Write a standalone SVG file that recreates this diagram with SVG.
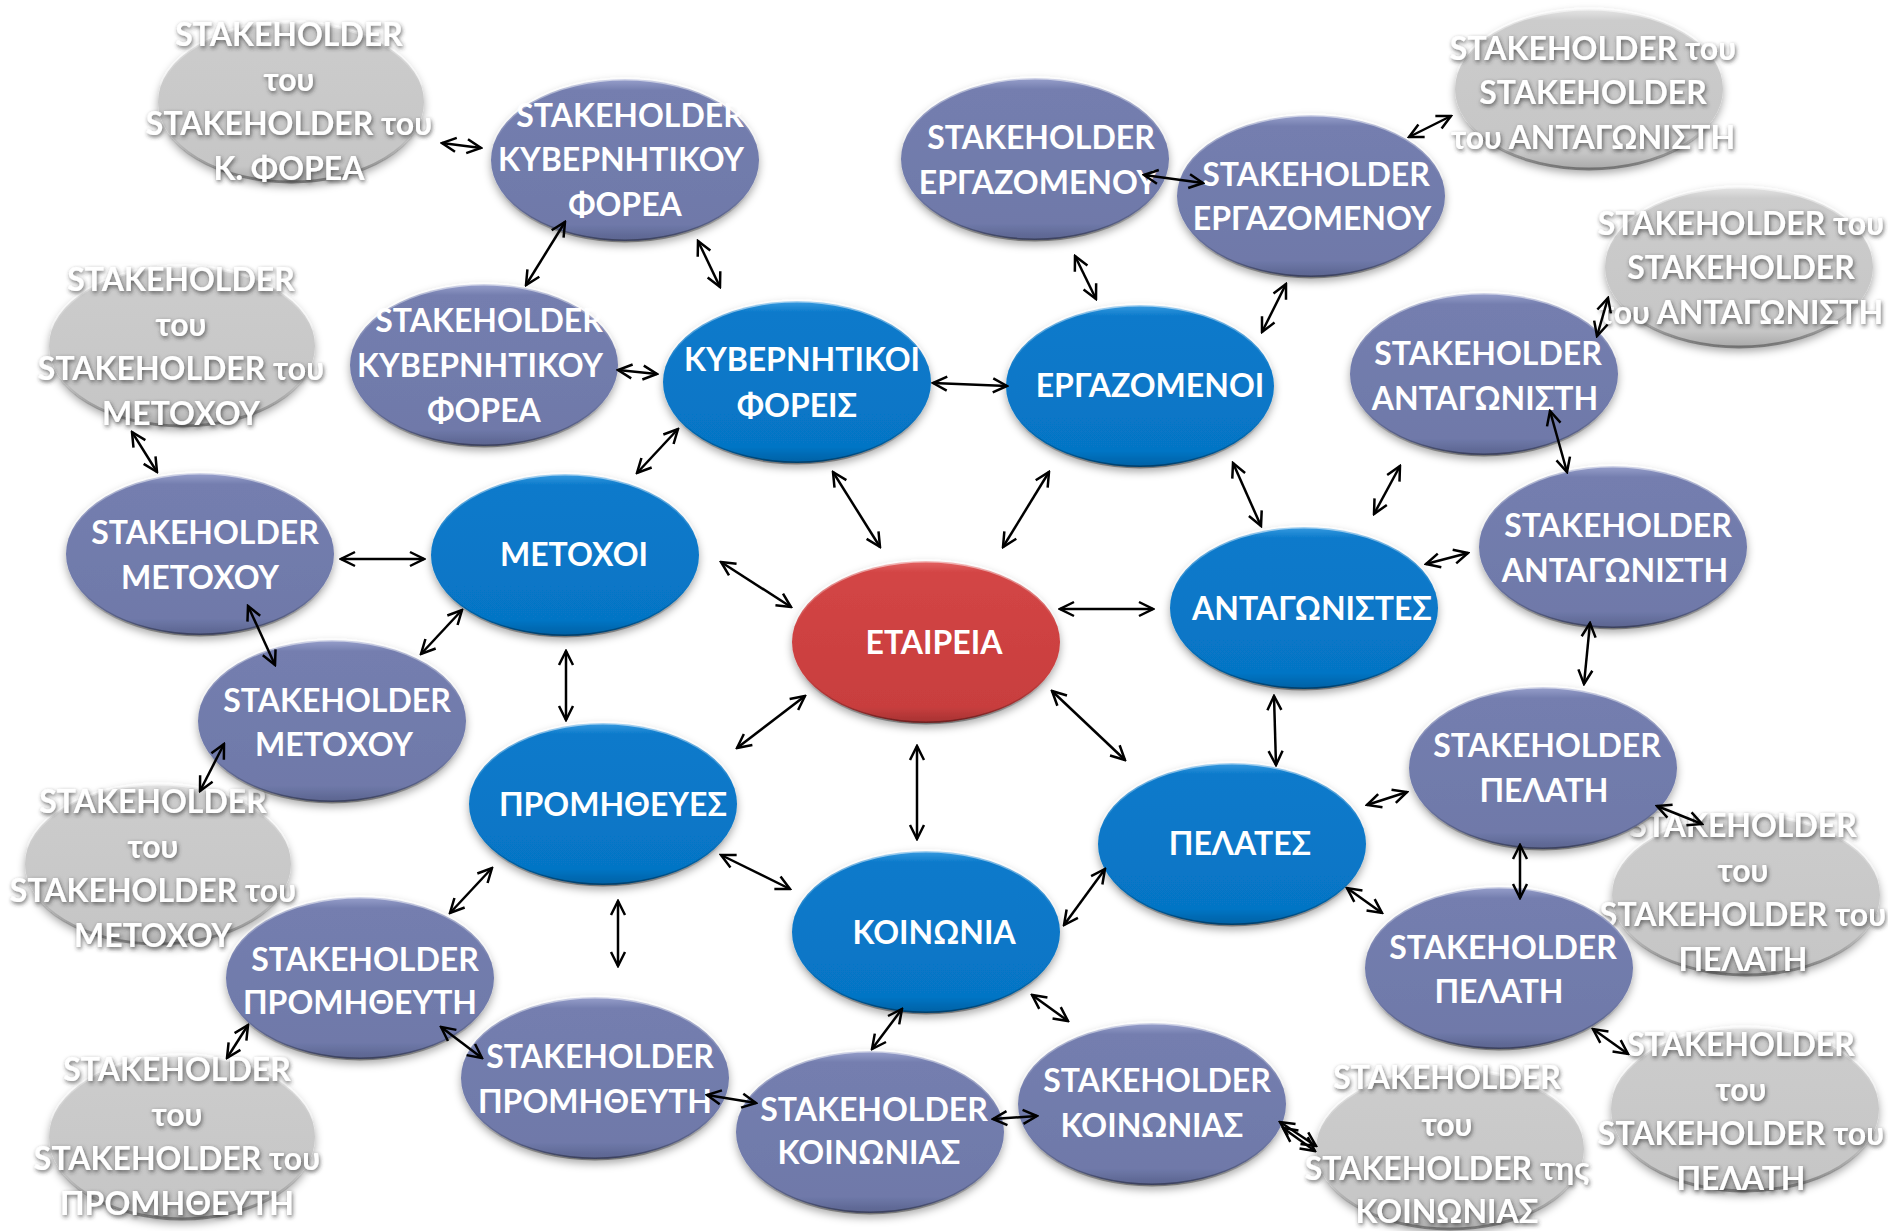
<svg xmlns="http://www.w3.org/2000/svg" width="1888" height="1231" viewBox="0 0 1888 1231">
<style>
text{font-family:Lato,"Open Sans","Noto Sans",sans-serif;font-weight:700;font-size:32px;fill:#fff;text-anchor:middle}
.blue ellipse{fill:url(#gBlue)}
.purple ellipse{fill:url(#gPurple)}
.red ellipse{fill:url(#gRed)}
.grey ellipse{fill:url(#gGrey)}
.node ellipse{stroke:url(#bev);stroke-width:3;filter:url(#sh)}
.grey text{filter:url(#ts)}
#connectors line{stroke:#000;stroke-width:2.5;fill:none;marker-start:url(#ah);marker-end:url(#ah)}
</style>
<defs>
<linearGradient id="gBlue" x1="0" y1="0" x2="0" y2="1"><stop offset="0" stop-color="#3a9be0"/><stop offset="0.07" stop-color="#0a7acb"/><stop offset="0.9" stop-color="#0675c5"/><stop offset="1" stop-color="#0560a3"/></linearGradient>
<linearGradient id="gPurple" x1="0" y1="0" x2="0" y2="1"><stop offset="0" stop-color="#98a0cc"/><stop offset="0.07" stop-color="#747eaf"/><stop offset="0.9" stop-color="#6f79a9"/><stop offset="1" stop-color="#5a638e"/></linearGradient>
<linearGradient id="gRed" x1="0" y1="0" x2="0" y2="1"><stop offset="0" stop-color="#e46464"/><stop offset="0.07" stop-color="#d34545"/><stop offset="0.9" stop-color="#c83e3e"/><stop offset="1" stop-color="#a53131"/></linearGradient>
<linearGradient id="gGrey" x1="0" y1="0" x2="0" y2="1"><stop offset="0" stop-color="#e6e6e6"/><stop offset="0.07" stop-color="#cccccc"/><stop offset="0.9" stop-color="#c6c6c6"/><stop offset="1" stop-color="#a9a9a9"/></linearGradient>
<linearGradient id="bev" x1="0" y1="0" x2="0" y2="1"><stop offset="0" stop-color="#fff" stop-opacity="0.55"/><stop offset="0.4" stop-color="#fff" stop-opacity="0"/><stop offset="0.7" stop-color="#000" stop-opacity="0"/><stop offset="1" stop-color="#000" stop-opacity="0.35"/></linearGradient>
<filter id="sh" x="-20%" y="-20%" width="140%" height="150%"><feDropShadow dx="0" dy="4" stdDeviation="4" flood-color="#000" flood-opacity="0.35"/></filter>
<filter id="ts" x="-10%" y="-30%" width="120%" height="170%"><feDropShadow dx="1" dy="2" stdDeviation="2" flood-color="#333" flood-opacity="0.75"/></filter>
<marker id="ah" viewBox="0 0 18 18" refX="16" refY="9" markerWidth="18" markerHeight="18" markerUnits="userSpaceOnUse" orient="auto-start-reverse"><path d="M2,2 L16,9 L2,16" fill="none" stroke="#000" stroke-width="2.5"/></marker>
</defs>
<rect width="1888" height="1231" fill="#fff"/>

<!-- grey nodes -->
<g id="g_kfor" class="node grey"><ellipse cx="291" cy="102" rx="133" ry="80"/>
<text x="289" y="46">STAKEHOLDER</text><text x="289" y="91">του</text><text x="289" y="135">STAKEHOLDER του</text><text x="289" y="180">Κ. ΦΟΡΕΑ</text></g>
<g id="g_met1" class="node grey"><ellipse cx="182" cy="346" rx="133" ry="80"/>
<text x="181" y="291">STAKEHOLDER</text><text x="181" y="336">του</text><text x="181" y="380">STAKEHOLDER του</text><text x="181" y="425">ΜΕΤΟΧΟΥ</text></g>
<g id="g_met2" class="node grey"><ellipse cx="158" cy="864" rx="133" ry="80"/>
<text x="153" y="813">STAKEHOLDER</text><text x="153" y="858">του</text><text x="153" y="902">STAKEHOLDER του</text><text x="153" y="947">ΜΕΤΟΧΟΥ</text></g>
<g id="g_prom" class="node grey"><ellipse cx="182" cy="1137" rx="133" ry="82"/>
<text x="177" y="1081">STAKEHOLDER</text><text x="177" y="1126">του</text><text x="177" y="1170">STAKEHOLDER του</text><text x="177" y="1215">ΠΡΟΜΗΘΕΥΤΗ</text></g>
<g id="g_ant1" class="node grey"><ellipse cx="1589" cy="89" rx="134" ry="80"/>
<text x="1593" y="60">STAKEHOLDER του</text><text x="1593" y="104">STAKEHOLDER</text><text x="1593" y="149">του ΑΝΤΑΓΩΝΙΣΤΗ</text></g>
<g id="g_ant2" class="node grey"><ellipse cx="1739" cy="267" rx="134" ry="80"/>
<text x="1741" y="235">STAKEHOLDER του</text><text x="1741" y="279">STAKEHOLDER</text><text x="1741" y="324">του ΑΝΤΑΓΩΝΙΣΤΗ</text></g>
<g id="g_pel1" class="node grey"><ellipse cx="1746" cy="895" rx="134" ry="80"/>
<text x="1743" y="837">STAKEHOLDER</text><text x="1743" y="882">του</text><text x="1743" y="926">STAKEHOLDER του</text><text x="1743" y="971">ΠΕΛΑΤΗ</text></g>
<g id="g_pel2" class="node grey"><ellipse cx="1745" cy="1109" rx="134" ry="82"/>
<text x="1741" y="1056">STAKEHOLDER</text><text x="1741" y="1101">του</text><text x="1741" y="1145">STAKEHOLDER του</text><text x="1741" y="1190">ΠΕΛΑΤΗ</text></g>
<g id="g_koin" class="node grey"><ellipse cx="1450" cy="1149" rx="134" ry="80"/>
<text x="1447" y="1089">STAKEHOLDER</text><text x="1447" y="1136">του</text><text x="1447" y="1180">STAKEHOLDER της</text><text x="1447" y="1223">ΚΟΙΝΩΝΙΑΣ</text></g>

<!-- purple nodes -->
<g id="p_kyv1" class="node purple"><ellipse cx="625" cy="160" rx="134" ry="81"/>
<text x="630" y="127">STAKEHOLDER</text><text x="621" y="171">ΚΥΒΕΡΝΗΤΙΚΟΥ</text><text x="625" y="216">ΦΟΡΕΑ</text></g>
<g id="p_kyv2" class="node purple"><ellipse cx="484" cy="365" rx="134" ry="81"/>
<text x="489" y="332">STAKEHOLDER</text><text x="480" y="377">ΚΥΒΕΡΝΗΤΙΚΟΥ</text><text x="484" y="422">ΦΟΡΕΑ</text></g>
<g id="p_erg1" class="node purple"><ellipse cx="1035" cy="159" rx="134" ry="81"/>
<text x="1041" y="149">STAKEHOLDER</text><text x="1038" y="194">ΕΡΓΑΖΟΜΕΝΟΥ</text></g>
<g id="p_erg2" class="node purple"><ellipse cx="1311" cy="196" rx="134" ry="81"/>
<text x="1316" y="186">STAKEHOLDER</text><text x="1312" y="230">ΕΡΓΑΖΟΜΕΝΟΥ</text></g>
<g id="p_ant1" class="node purple"><ellipse cx="1484" cy="374" rx="134" ry="81"/>
<text x="1488" y="365">STAKEHOLDER</text><text x="1485" y="410">ΑΝΤΑΓΩΝΙΣΤΗ</text></g>
<g id="p_ant2" class="node purple"><ellipse cx="1613" cy="547" rx="134" ry="81"/>
<text x="1618" y="537">STAKEHOLDER</text><text x="1615" y="582">ΑΝΤΑΓΩΝΙΣΤΗ</text></g>
<g id="p_met1" class="node purple"><ellipse cx="200" cy="554" rx="134" ry="81"/>
<text x="205" y="544">STAKEHOLDER</text><text x="200" y="589">ΜΕΤΟΧΟΥ</text></g>
<g id="p_met2" class="node purple"><ellipse cx="332" cy="721" rx="134" ry="81"/>
<text x="337" y="712">STAKEHOLDER</text><text x="334" y="756">ΜΕΤΟΧΟΥ</text></g>
<g id="p_pel1" class="node purple"><ellipse cx="1543" cy="768" rx="134" ry="81"/>
<text x="1547" y="757">STAKEHOLDER</text><text x="1544" y="802">ΠΕΛΑΤΗ</text></g>
<g id="p_pel2" class="node purple"><ellipse cx="1499" cy="968" rx="134" ry="81"/>
<text x="1503" y="959">STAKEHOLDER</text><text x="1499" y="1003">ΠΕΛΑΤΗ</text></g>
<g id="p_prom1" class="node purple"><ellipse cx="360" cy="978" rx="134" ry="81"/>
<text x="365" y="971">STAKEHOLDER</text><text x="360" y="1014">ΠΡΟΜΗΘΕΥΤΗ</text></g>
<g id="p_prom2" class="node purple"><ellipse cx="595" cy="1078" rx="134" ry="81"/>
<text x="600" y="1068">STAKEHOLDER</text><text x="595" y="1113">ΠΡΟΜΗΘΕΥΤΗ</text></g>
<g id="p_koin1" class="node purple"><ellipse cx="870" cy="1132" rx="134" ry="81"/>
<text x="874" y="1121">STAKEHOLDER</text><text x="869" y="1164">ΚΟΙΝΩΝΙΑΣ</text></g>
<g id="p_koin2" class="node purple"><ellipse cx="1152" cy="1104" rx="134" ry="81"/>
<text x="1157" y="1092">STAKEHOLDER</text><text x="1152" y="1137">ΚΟΙΝΩΝΙΑΣ</text></g>

<!-- blue nodes -->
<g id="b_kyv" class="node blue"><ellipse cx="797" cy="382" rx="134" ry="81"/>
<text x="802" y="371">ΚΥΒΕΡΝΗΤΙΚΟΙ</text><text x="797" y="417">ΦΟΡΕΙΣ</text></g>
<g id="b_erg" class="node blue"><ellipse cx="1140" cy="386" rx="134" ry="81"/>
<text x="1150" y="397">ΕΡΓΑΖΟΜΕΝΟΙ</text></g>
<g id="b_met" class="node blue"><ellipse cx="565" cy="555" rx="134" ry="81"/>
<text x="574" y="566">ΜΕΤΟΧΟΙ</text></g>
<g id="b_ant" class="node blue"><ellipse cx="1304" cy="608" rx="134" ry="81"/>
<text x="1312" y="620">ΑΝΤΑΓΩΝΙΣΤΕΣ</text></g>
<g id="b_prom" class="node blue"><ellipse cx="603" cy="804" rx="134" ry="81"/>
<text x="613" y="816">ΠΡΟΜΗΘΕΥΕΣ</text></g>
<g id="b_pel" class="node blue"><ellipse cx="1232" cy="844" rx="134" ry="81"/>
<text x="1240" y="855">ΠΕΛΑΤΕΣ</text></g>
<g id="b_koin" class="node blue"><ellipse cx="926" cy="932" rx="134" ry="81"/>
<text x="934" y="944">ΚΟΙΝΩΝΙΑ</text></g>

<!-- center -->
<g id="r_etaireia" class="node red"><ellipse cx="926" cy="642" rx="134" ry="81"/>
<text x="934" y="654">ΕΤΑΙΡΕΙΑ</text></g>

<g id="connectors">
<line x1="833" y1="472" x2="880" y2="547"/>
<line x1="1049" y1="472" x2="1003" y2="547"/>
<line x1="721" y1="562" x2="791" y2="607"/>
<line x1="1060" y1="609" x2="1153" y2="609"/>
<line x1="805" y1="696" x2="737" y2="748"/>
<line x1="1052" y1="691" x2="1125" y2="760"/>
<line x1="917" y1="746" x2="917" y2="839"/>
<line x1="933" y1="383" x2="1007" y2="386"/>
<line x1="678" y1="429" x2="637" y2="473"/>
<line x1="618" y1="370" x2="657" y2="374"/>
<line x1="698" y1="241" x2="720" y2="287"/>
<line x1="565" y1="222" x2="526" y2="285"/>
<line x1="442" y1="143" x2="481" y2="148"/>
<line x1="1075" y1="256" x2="1096" y2="299"/>
<line x1="1286" y1="284" x2="1262" y2="332"/>
<line x1="1144" y1="175" x2="1203" y2="183"/>
<line x1="1409" y1="137" x2="1451" y2="116"/>
<line x1="1233" y1="463" x2="1261" y2="526"/>
<line x1="1374" y1="514" x2="1400" y2="466"/>
<line x1="1426" y1="564" x2="1468" y2="553"/>
<line x1="1550" y1="411" x2="1567" y2="472"/>
<line x1="1597" y1="336" x2="1608" y2="298"/>
<line x1="1590" y1="623" x2="1584" y2="684"/>
<line x1="1274" y1="696" x2="1276" y2="765"/>
<line x1="1367" y1="805" x2="1407" y2="792"/>
<line x1="1347" y1="888" x2="1382" y2="913"/>
<line x1="1520" y1="845" x2="1520" y2="898"/>
<line x1="1657" y1="806" x2="1702" y2="824"/>
<line x1="1593" y1="1029" x2="1628" y2="1054"/>
<line x1="1105" y1="869" x2="1064" y2="925"/>
<line x1="902" y1="1009" x2="872" y2="1049"/>
<line x1="1032" y1="995" x2="1068" y2="1021"/>
<line x1="993" y1="1119" x2="1037" y2="1116"/>
<line x1="1280" y1="1122" x2="1316" y2="1146"/>
<line x1="1283" y1="1128" x2="1315" y2="1151"/>
<line x1="721" y1="855" x2="790" y2="889"/>
<line x1="492" y1="868" x2="450" y2="913"/>
<line x1="618" y1="901" x2="618" y2="966"/>
<line x1="441" y1="1027" x2="482" y2="1058"/>
<line x1="248" y1="1025" x2="227" y2="1058"/>
<line x1="707" y1="1095" x2="756" y2="1103"/>
<line x1="566" y1="651" x2="566" y2="720"/>
<line x1="341" y1="559" x2="424" y2="559"/>
<line x1="462" y1="610" x2="421" y2="654"/>
<line x1="248" y1="606" x2="275" y2="665"/>
<line x1="132" y1="432" x2="157" y2="472"/>
<line x1="224" y1="744" x2="200" y2="791"/>
</g>
</svg>
